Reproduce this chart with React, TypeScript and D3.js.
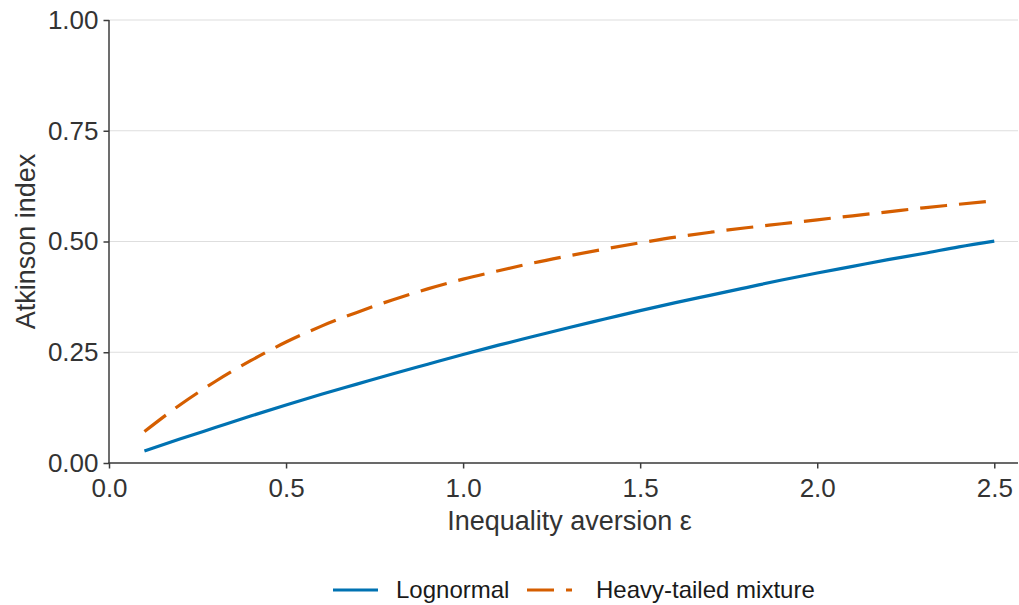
import React, { useEffect, useRef } from "react";
import * as d3 from "d3";

// inequality aversion values (x)
const epsilon = [
  0.1, 0.2, 0.3, 0.4, 0.5, 0.6, 0.7, 0.8, 0.9, 1.0, 1.1, 1.2, 1.3, 1.4, 1.5, 1.6, 1.7, 1.8, 1.9, 2.0,
  2.1, 2.2, 2.3, 2.4, 2.5,
];

// Atkinson index
const lognormal = [
  0.027, 0.054, 0.08, 0.106, 0.131, 0.155, 0.178, 0.201, 0.223, 0.245, 0.266, 0.286, 0.306, 0.325,
  0.344, 0.362, 0.379, 0.396, 0.413, 0.429, 0.444, 0.459, 0.473, 0.488, 0.501,
];
const heavyTailed = [
  0.071, 0.131, 0.184, 0.231, 0.273, 0.309, 0.34, 0.368, 0.393, 0.415, 0.434, 0.452, 0.468, 0.483,
  0.497, 0.51, 0.521, 0.531, 0.54, 0.549, 0.558, 0.567, 0.576, 0.584, 0.592,
];

const xTicks = [0, 0.5, 1.0, 1.5, 2.0, 2.5];
const yTicks = [0, 0.25, 0.5, 0.75, 1.0];

const seriesNames = ["Lognormal", "Heavy-tailed mixture"];
const seriesColors = ["#0072B2", "#D55E00"];
const seriesDash = [null, "27 12"];

const W = 1019;
const H = 605;
const FONT = "'Liberation Sans', Arial, Helvetica, sans-serif";

const AtkinsonChart: React.FC = () => {
  const svgRef = useRef<SVGSVGElement | null>(null);

  useEffect(() => {
    const svg = d3.select(svgRef.current);
    svg.selectAll("*").remove();

    const margin = { top: 20, right: 1, bottom: 142, left: 109 };
    const innerW = W - margin.left - margin.right;
    const innerH = H - margin.top - margin.bottom;

    const x = d3.scaleLinear().domain([0, 2.567]).range([0, innerW]);
    const y = d3.scaleLinear().domain([0, 1]).range([innerH, 0]);

    const g = svg.append("g").attr("transform", `translate(${margin.left},${margin.top})`);

    // horizontal grid
    g.selectAll("line.grid")
      .data(yTicks)
      .enter()
      .append("line")
      .attr("class", "grid")
      .attr("x1", 0)
      .attr("x2", innerW)
      .attr("y1", (d) => y(d))
      .attr("y2", (d) => y(d))
      .attr("stroke", "#dedede")
      .attr("stroke-width", 1.2);

    // lines
    const series = [lognormal, heavyTailed];
    const line = d3
      .line<number>()
      .x((_, i) => x(epsilon[i]))
      .y((d) => y(d))
      .curve(d3.curveMonotoneX);

    series.forEach((vals, k) => {
      const p = g
        .append("path")
        .datum(vals)
        .attr("d", line)
        .attr("fill", "none")
        .attr("stroke", seriesColors[k])
        .attr("stroke-width", 3.2);
      if (seriesDash[k]) p.attr("stroke-dasharray", seriesDash[k] as string);
    });

    // axes
    const yAxis = d3
      .axisLeft(y)
      .tickValues(yTicks)
      .tickFormat((d) => d3.format(".2f")(d as number))
      .tickSize(5.5)
      .tickPadding(5);
    const yg = g.append("g").call(yAxis);

    const xAxis = d3
      .axisBottom(x)
      .tickValues(xTicks)
      .tickFormat((d) => d3.format(".1f")(d as number))
      .tickSize(5.5)
      .tickPadding(10);
    const xg = g.append("g").attr("transform", `translate(0,${innerH})`).call(xAxis);

    [yg, xg].forEach((a) => {
      a.select(".domain").attr("stroke", "#3d3d3d").attr("stroke-width", 1.5);
      a.selectAll(".tick line").attr("stroke", "#3d3d3d").attr("stroke-width", 1.5);
      a.selectAll(".tick text")
        .attr("fill", "#333333")
        .style("font-family", FONT)
        .style("font-size", "26px");
    });
    // remove domain end ticks (ggplot style)
    yg.select(".domain").attr("d", `M0,${innerH + 0.75}V0`);
    xg.select(".domain").attr("d", `M-0.75,0H${innerW}`);

    // axis titles
    g.append("text")
      .attr("x", innerW / 2 + 6)
      .attr("y", innerH + 67)
      .attr("text-anchor", "middle")
      .attr("fill", "#333333")
      .style("font-family", FONT)
      .style("font-size", "27px")
      .text("Inequality aversion ε");

    g.append("text")
      .attr("transform", `translate(${-74},${innerH / 2}) rotate(-90)`)
      .attr("text-anchor", "middle")
      .attr("fill", "#333333")
      .style("font-family", FONT)
      .style("font-size", "27px")
      .text("Atkinson index");

    // legend
    const legendY = 590;
    const keyX = [333, 527];
    const textX = [396, 596];
    seriesNames.forEach((name, k) => {
      const l = svg
        .append("line")
        .attr("x1", keyX[k])
        .attr("x2", keyX[k] + 45)
        .attr("y1", legendY)
        .attr("y2", legendY)
        .attr("stroke", seriesColors[k])
        .attr("stroke-width", 3.2);
      if (seriesDash[k]) l.attr("stroke-dasharray", seriesDash[k] as string);
      svg
        .append("text")
        .attr("x", textX[k])
        .attr("y", legendY)
        .attr("dy", "0.35em")
        .attr("fill", "#1a1a1a")
        .style("font-family", FONT)
        .style("font-size", "24px")
        .text(name);
    });
  }, []);

  return (
    <svg
      ref={svgRef}
      width={W}
      height={H}
      style={{ position: "absolute", left: 0, top: 0, background: "#ffffff" }}
    />
  );
};

export default function App() {
  return <AtkinsonChart />;
}
